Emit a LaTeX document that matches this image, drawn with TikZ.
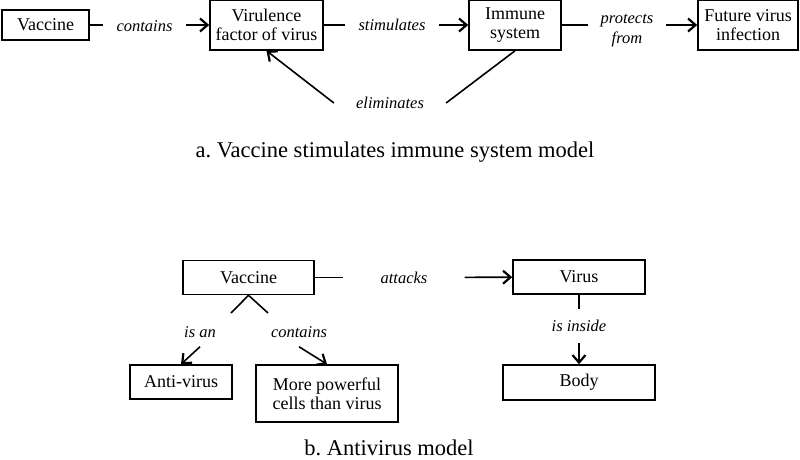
\documentclass[tikz,border=0pt]{standalone}
\usepackage{fontspec}
\setmainfont{Liberation Serif}
\usetikzlibrary{positioning,arrows.meta}

\begin{document}
\frenchspacing
\begin{tikzpicture}[x=1pt, y=-1pt,
  concept/.style={draw, line width=1.6pt, align=center, inner sep=2pt,
    font=\fontsize{18}{19.5}\selectfont},
  rel/.style={align=center, inner xsep=13pt, inner ysep=4pt,
    font=\fontsize{16.5}{20}\selectfont\itshape},
  caption/.style={anchor=base, font=\fontsize{22.5}{24}\selectfont},
  link/.style={line width=1.6pt},
  arr/.style={line width=1.6pt, -{Straight Barb[length=7.5pt,width=13pt,line width=2.2pt]}}]
  \useasboundingbox (0,0) rectangle (800,460);

  % Model a: concepts
  \node[concept, minimum width=87, minimum height=30] (vaccineA) at (45.5,25) {Vaccine};
  \node[concept, minimum width=113, minimum height=50] (virulence) at (266.5,25) {Virulence\\factor of virus};
  \node[concept, minimum width=92, minimum height=50] (immune) at (515,25) {Immune\\system};
  \node[concept, minimum width=100, minimum height=50] (future) at (748,25) {Future virus\\infection};

  % Model a: relations
  \node[rel] (containsA) at (144.5,26) {contains};
  \node[rel] (stimulates) at (392,25) {stimulates};
  \node[rel] (protects) at (627,31) {protects\\from};
  \node[rel, inner xsep=22pt] (eliminates) at (390,103) {eliminates};

  % Model a: links
  \draw[link] (vaccineA.east) -- (vaccineA.east -| containsA.west);
  \draw[arr] (containsA.east |- virulence.west) -- (virulence.west);
  \draw[link] (virulence.east) -- (virulence.east -| stimulates.west);
  \draw[arr] (stimulates.east |- immune.west) -- (immune.west);
  \draw[link] (immune.east) -- (immune.east -| protects.west);
  \draw[arr] (protects.east |- future.west) -- (future.west);
  \draw[link] (immune.south) -- (eliminates.east);
  \draw[arr] (eliminates.west) -- (virulence.south);

  \node[caption] (capA) at (395,157) {a. Vaccine stimulates immune system model};

  % Model b: concepts
  \node[concept, minimum width=131, minimum height=34] (vaccineB) at (248.5,277.5) {Vaccine};
  \node[concept, minimum width=132, minimum height=34] (virus) at (579,277) {Virus};
  \node[concept, minimum width=102, minimum height=34] (antivirus) at (181,382) {Anti-virus};
  \node[concept, minimum width=142, minimum height=57] (cells) at (327,393.5) {More powerful\\cells than virus};
  \node[concept, minimum width=152, minimum height=35] (body) at (579,382.5) {Body};

  % Model b: relations
  \node[rel, inner xsep=37pt] (attacks) at (404,277.5) {attacks};
  \node[rel, inner ysep=11pt] (inside) at (579,326) {is inside};
  \node[rel, inner ysep=9pt] (isan) at (200,332) {is an};
  \node[rel, inner ysep=9pt] (containsB) at (299,332) {contains};
  \coordinate (forkL) at (231,313);
  \coordinate (forkR) at (268,313);

  % Model b: links
  \draw[link] (vaccineB) -- (attacks);
  \draw[arr] (attacks) -- (virus);
  \draw[link] (virus) -- (inside);
  \draw[arr] (inside) -- (body);
  \draw[link] (forkL) -- (vaccineB.south) -- (forkR);
  \draw[arr] (isan.south) -- (antivirus.north);
  \draw[arr] (containsB.south) -- (cells.north);

  \node[caption] (capB) at (389,455.5) {b. Antivirus model};
\end{tikzpicture}
\end{document}
